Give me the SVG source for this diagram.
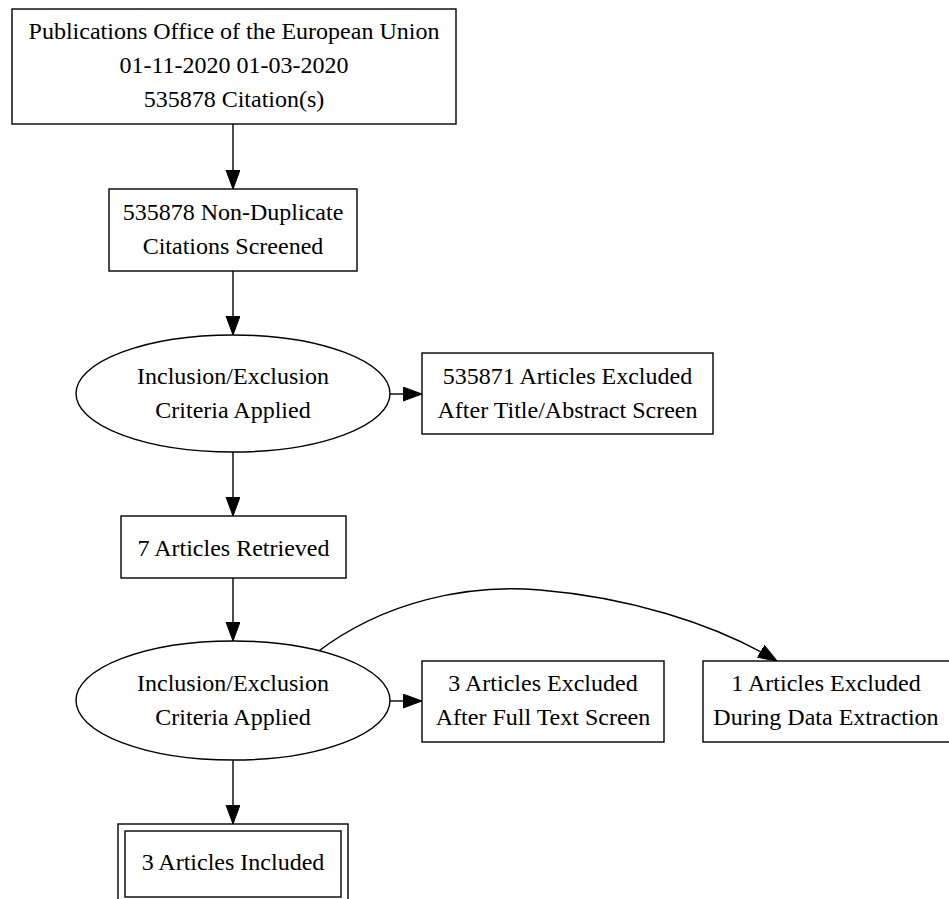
<svg xmlns="http://www.w3.org/2000/svg" width="949" height="899" viewBox="0 0 949 899">
<defs>
<style>
.n{fill:#fff;stroke:#000;stroke-width:1.4}
.t{font-family:"Liberation Serif","Times New Roman",serif;font-size:24px;fill:#000;text-anchor:middle}
.e{fill:none;stroke:#000;stroke-width:1.4}
</style>
<marker id="ah" markerUnits="userSpaceOnUse" markerWidth="20" markerHeight="16" refX="19" refY="7" orient="auto">
<path d="M0,0 L19,7 L0,14 z" fill="#000" stroke="#000" stroke-width="1"/>
</marker>
</defs>
<rect width="949" height="899" fill="#fff"/>
<g id="connectors">
<path class="e" d="M233,124 L233,189" marker-end="url(#ah)"/>
<path class="e" d="M233,271 L233,335" marker-end="url(#ah)"/>
<path class="e" d="M390,394 L422,394" marker-end="url(#ah)"/>
<path class="e" d="M233,452 L233,516" marker-end="url(#ah)"/>
<path class="e" d="M233,578 L233,641" marker-end="url(#ah)"/>
<path class="e" d="M390,701 L422,701" marker-end="url(#ah)"/>
<path class="e" d="M233,760 L233,824" marker-end="url(#ah)"/>
<path class="e" d="M316,653 C385,600 470,584 540,590 C625,597 712,622 777,661" marker-end="url(#ah)"/>
</g>
<g id="source">
<rect class="n" x="12" y="9" width="444" height="115"/>
<text class="t" x="234" y="39">Publications Office of the European Union</text>
<text class="t" x="234" y="73">01-11-2020 01-03-2020</text>
<text class="t" x="234" y="107">535878 Citation(s)</text>
</g>
<g id="screened">
<rect class="n" x="109" y="189" width="248" height="82"/>
<text class="t" x="233" y="220">535878 Non-Duplicate</text>
<text class="t" x="233" y="254">Citations Screened</text>
</g>
<g id="criteria1">
<ellipse class="n" cx="233" cy="393.5" rx="157" ry="58.5"/>
<text class="t" x="233" y="384">Inclusion/Exclusion</text>
<text class="t" x="233" y="418">Criteria Applied</text>
</g>
<g id="excluded1">
<rect class="n" x="422" y="353" width="291" height="81"/>
<text class="t" x="567.5" y="384">535871 Articles Excluded</text>
<text class="t" x="567.5" y="418">After Title/Abstract Screen</text>
</g>
<g id="retrieved">
<rect class="n" x="121" y="516" width="225" height="62"/>
<text class="t" x="233.5" y="556">7 Articles Retrieved</text>
</g>
<g id="criteria2">
<ellipse class="n" cx="233" cy="700.5" rx="157" ry="59.5"/>
<text class="t" x="233" y="691">Inclusion/Exclusion</text>
<text class="t" x="233" y="725">Criteria Applied</text>
</g>
<g id="excluded2">
<rect class="n" x="422" y="661" width="242" height="81"/>
<text class="t" x="543" y="691">3 Articles Excluded</text>
<text class="t" x="543" y="725">After Full Text Screen</text>
</g>
<g id="excluded3">
<rect class="n" x="703" y="661" width="250" height="81"/>
<text class="t" x="826" y="691">1 Articles Excluded</text>
<text class="t" x="826" y="725">During Data Extraction</text>
</g>
<g id="included">
<rect class="n" x="118" y="824" width="230" height="85"/>
<rect class="n" x="125" y="831" width="216" height="66"/>
<text class="t" x="233" y="870">3 Articles Included</text>
</g>
</svg>
